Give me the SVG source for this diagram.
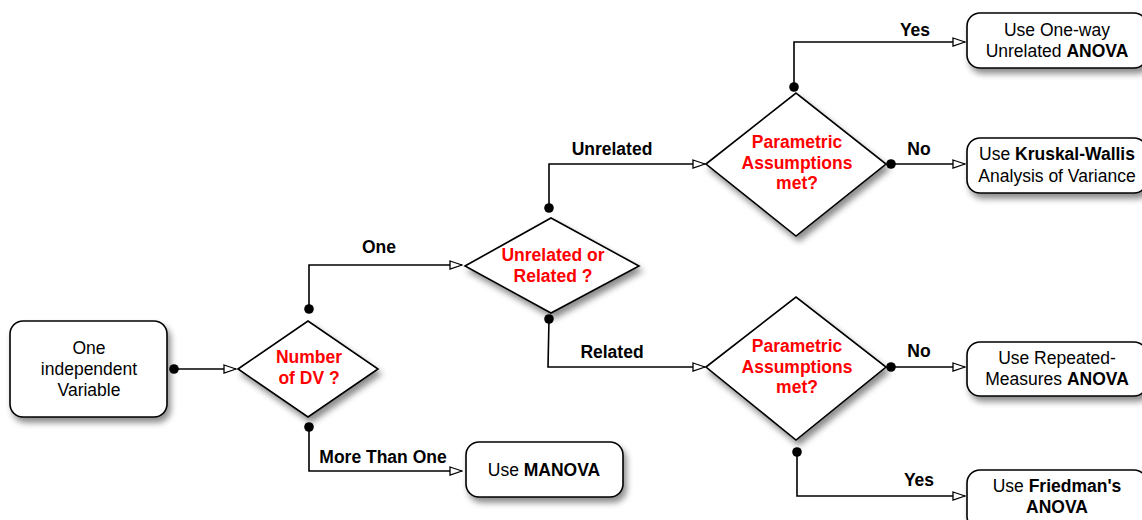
<svg xmlns="http://www.w3.org/2000/svg" width="1142" height="520" viewBox="0 0 1142 520">
<defs>
<filter id="sh" x="-20%" y="-20%" width="150%" height="160%">
<feDropShadow dx="3" dy="5" stdDeviation="3" flood-color="#000" flood-opacity="0.45"/>
</filter>
<marker id="arr" viewBox="0 0 14 10" refX="13" refY="5" markerWidth="14" markerHeight="10" markerUnits="userSpaceOnUse" orient="auto">
<path d="M1,1 L13,5 L1,9 Z" fill="#fff" stroke="#000" stroke-width="1.3"/>
</marker>
<marker id="dot" viewBox="0 0 10 10" refX="5" refY="5" markerWidth="10" markerHeight="10" markerUnits="userSpaceOnUse">
<circle cx="5" cy="5" r="4.8" fill="#000"/>
</marker>
</defs>
<style>
.box{fill:#fff;stroke:#000;stroke-width:1.6;filter:url(#sh)}
.dia{fill:#fff;stroke:#000;stroke-width:1.6;filter:url(#sh)}
.t{font-family:"Liberation Sans",Arial,sans-serif;font-size:17.5px;fill:#000;text-anchor:middle}
.q{font-family:"Liberation Sans",Arial,sans-serif;font-size:17.5px;font-weight:bold;fill:#f00;text-anchor:middle}
.lb{font-family:"Liberation Sans",Arial,sans-serif;font-size:17.5px;font-weight:bold;fill:#000;text-anchor:middle}
.b{font-weight:bold}
.c{fill:none;stroke:#000;stroke-width:1.6;marker-start:url(#dot);marker-end:url(#arr)}
</style>
<g id="connectors">
<path class="c" d="M174,369 L236,369"/>
<path class="c" d="M309,309 L309,265 L462,265"/>
<path class="c" d="M309,427 L309,471 L462,471"/>
<path class="c" d="M549,208 L549,164 L705,164"/>
<path class="c" d="M549,319 L548,367 L705,367"/>
<path class="c" d="M794,87 L794,42 L965,42"/>
<path class="c" d="M891,164 L965,164"/>
<path class="c" d="M891,367 L965,367"/>
<path class="c" d="M797,452 L797,496 L965,496"/>
<text class="lb" x="379" y="253">One</text>
<text class="lb" x="383" y="463">More Than One</text>
<text class="lb" x="612" y="155">Unrelated</text>
<text class="lb" x="612" y="358">Related</text>
<text class="lb" x="915" y="36">Yes</text>
<text class="lb" x="919" y="155">No</text>
<text class="lb" x="919" y="357">No</text>
<text class="lb" x="919" y="486">Yes</text>
</g>
<g id="start">
<rect class="box" x="10" y="321" width="157" height="96" rx="13"/>
<text class="t" x="89" y="354">One</text>
<text class="t" x="89" y="375">independent</text>
<text class="t" x="89" y="396">Variable</text>
</g>
<g id="numdv">
<path class="dia" d="M238,369 L308,321 L378,369 L308,417 Z"/>
<text class="q" x="309" y="363">Number</text>
<text class="q" x="309" y="384">of DV ?</text>
</g>
<g id="unrel">
<path class="dia" d="M465,266 L551,218 L639,266 L551,313 Z"/>
<text class="q" x="553" y="261">Unrelated or</text>
<text class="q" x="553" y="282">Related ?</text>
</g>
<g id="manova">
<rect class="box" x="466" y="442" width="157" height="55" rx="13"/>
<text class="t" x="544" y="476">Use <tspan class="b">MANOVA</tspan></text>
</g>
<g id="param1">
<path class="dia" d="M706,164 L796,93 L886,164 L796,236 Z"/>
<text class="q" x="797" y="148">Parametric</text>
<text class="q" x="797" y="168.5">Assumptions</text>
<text class="q" x="797" y="189">met?</text>
</g>
<g id="param2">
<path class="dia" d="M706,367 L796,297 L886,367 L796,440 Z"/>
<text class="q" x="797" y="352">Parametric</text>
<text class="q" x="797" y="373">Assumptions</text>
<text class="q" x="797" y="393">met?</text>
</g>
<g id="oneway">
<rect class="box" x="967" y="13" width="180" height="55" rx="13"/>
<text class="t" x="1057" y="36">Use One-way</text>
<text class="t" x="1057" y="57">Unrelated <tspan class="b">ANOVA</tspan></text>
</g>
<g id="kruskal">
<rect class="box" x="967" y="138" width="180" height="55" rx="13"/>
<text class="t" x="1057" y="160">Use <tspan class="b">Kruskal-Wallis</tspan></text>
<text class="t" x="1057" y="181.5">Analysis of Variance</text>
</g>
<g id="repeated">
<rect class="box" x="967" y="342" width="180" height="54" rx="13"/>
<text class="t" x="1057" y="364">Use Repeated-</text>
<text class="t" x="1057" y="385">Measures <tspan class="b">ANOVA</tspan></text>
</g>
<g id="friedman">
<rect class="box" x="967" y="470" width="180" height="60" rx="13"/>
<text class="t" x="1057" y="492">Use <tspan class="b">Friedman's</tspan></text>
<text class="t" x="1057" y="512.5"><tspan class="b">ANOVA</tspan></text>
</g>
</svg>
